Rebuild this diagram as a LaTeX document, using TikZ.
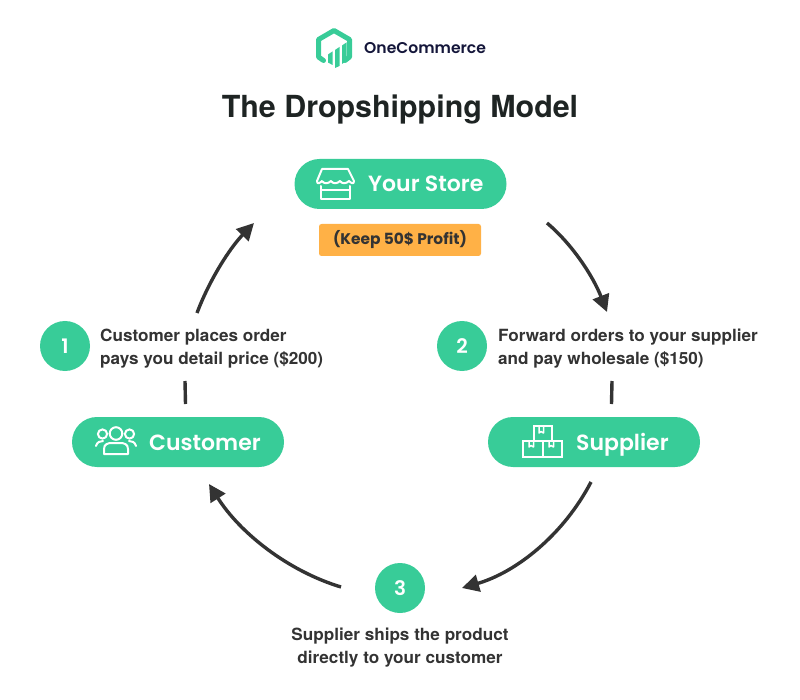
\documentclass[tikz,border=0pt]{standalone}
\usepackage{fontspec}
\setmainfont{Poppins}[BoldFont={Poppins SemiBold}]
\newfontfamily\hv{TeX Gyre Heros}[FakeStretch=1.02]
\newfontfamily\hvt{TeX Gyre Heros}
\newfontfamily\popb{Poppins Bold}
\usetikzlibrary{arrows.meta}
\definecolor{grn}{HTML}{38CC98}
\definecolor{org}{HTML}{FFB146}
\definecolor{ink}{HTML}{333333}
\definecolor{navy}{HTML}{14163A}
\definecolor{ttl}{HTML}{1E2423}
\tikzset{
 pill/.style={fill=grn,rounded corners=25pt,minimum width=212pt,minimum height=50pt,inner sep=0pt},
 pilltext/.style={text=white,font=\bfseries\fontsize{22}{22}\selectfont,inner sep=0pt,anchor=base west},
 numdot/.style={circle,fill=grn,minimum size=50pt,inner sep=0pt,text=white,font=\bfseries\fontsize{20}{20}\selectfont},
 lab/.style={text=ink,font=\hv\bfseries\fontsize{16.8}{22.5}\selectfont,inner sep=0pt,align=left,anchor=base west},
 labc/.style={text=ink,font=\hv\bfseries\fontsize{16.8}{22.5}\selectfont,inner sep=0pt,align=center,anchor=base},
 flow/.style={draw=ink,line width=3.4pt,-{Triangle[length=17pt,width=17pt]}},
 plainflow/.style={draw=ink,line width=3.4pt},
 ico/.style={draw=white,line width=2pt,line join=round,line cap=round,fill=none},
}
\begin{document}
\begin{tikzpicture}[x=1pt,y=-1pt]
\useasboundingbox (0,0) rectangle (800,700);
% logo
\draw[grn,line width=5pt,line join=round,line cap=round] (323.5,60.5) -- (318.5,57) -- (318.5,39.5) -- (334,30.5) -- (349.5,39.5) -- (349.5,57) -- (345,60.5);
\fill[grn] (328,54.5) -- (332.5,51.5) -- (332.5,65) -- (328,62.5) -- cycle
 (335,50) -- (339.5,47) -- (339.5,66) -- (335,68) -- cycle
 (342,45.5) -- (346.5,42.5) -- (346.5,61) -- (342,64) -- cycle;
\node[text=navy,font=\bfseries\fontsize{15.6}{16}\selectfont,inner sep=0pt,anchor=base west] (brand) at (364,53.5) {OneCommerce};
\node[text=ttl,font=\hvt\bfseries\fontsize{30.4}{30}\selectfont,inner sep=0pt,anchor=base] (title) at (400,118) {The Dropshipping Model};
% pills
\node[pill] (store) at (400.5,184) {};
\node[pill] (cust) at (178,442) {};
\node[pill] (supp) at (594,442) {};
\node[pilltext] (storet) at (368,192) {Your Store};
\node[pilltext] (custt) at (149,450) {Customer};
\node[pilltext] (suppt) at (576,450) {Supplier};
\node[fill=org,rounded corners=2.5pt,minimum width=162pt,minimum height=32pt,inner sep=0pt,text=ink,font=\popb\fontsize{15.4}{16}\selectfont] (profit) at (400,240) {(Keep 50\$ Profit)};
% store icon
\draw[ico] (322,169) -- (348,169) -- (354,181) .. controls (354,185) and (351,183) .. (349,181) .. controls (346,184) and (342,184) .. (340,181) .. controls (337,184) and (333,184) .. (331,181) .. controls (328,184) and (324,184) .. (322,181) .. controls (320,183) and (317,185) .. (317,181) -- cycle;
\draw[ico] (321,186) -- (321,199) -- (350,199) -- (350,186) (321,190) -- (350,190);
% people icon
\draw[ico] (116,433.5) circle (6.3pt) (102.5,434) circle (4.6pt) (129.5,434) circle (4.6pt);
\draw[ico] (104,454) -- (104,449) .. controls (104,444) and (108,443) .. (112,443) -- (120,443) .. controls (124,443) and (128,444) .. (128,449) -- (128,454) -- cycle;
\draw[ico] (96,446) .. controls (97,442) and (100,441) .. (103,441) (136,446) .. controls (135,442) and (132,441) .. (129,441);
% boxes icon
\draw[ico,line cap=butt,line join=miter] (533.5,426) rectangle (551.5,441) (523,441) rectangle (542.5,456.5) (542.5,441) rectangle (561.5,456.5);
\draw[ico,line width=1.5pt] (539,426) -- (539,433) -- (541,431.5) -- (543.5,433) -- (543.5,426)
 (529,441) -- (529,447) -- (531,445.5) -- (533.5,447) -- (533.5,441)
 (549,441) -- (549,447) -- (551,445.5) -- (553.5,447) -- (553.5,441);
% steps
\node[numdot] (n1) at (65,346) {1};
\node[numdot] (n2) at (462,346) {2};
\node[numdot] (n3) at (400,588) {3};
\node[lab] (l1) at (100,364) {Customer places order\\pays you detail price (\$200)};
\node[lab] (l2) at (498,364) {Forward orders to your supplier\\and pay wholesale (\$150)};
\node[labc] (l3) at (400,663) {Supplier ships the product\\directly to your customer};
% connector ends
\coordinate (a1s) at (197,313); \coordinate (a1e) at (254,223);
\coordinate (a2s) at (547,223); \coordinate (a2e) at (607,312);
\coordinate (a3s) at (591,482); \coordinate (a3e) at (462,588);
\coordinate (a4s) at (341,587); \coordinate (a4e) at (209,484);
\coordinate (b1s) at (185.5,404); \coordinate (b1e) at (185,381);
\coordinate (b2s) at (612,381); \coordinate (b2e) at (611.5,404);
\draw[flow] (a1s) .. controls (209,281) and (229,249) .. (a1e);
\draw[flow] (a2s) .. controls (572,244) and (593,276) .. (a2e);
\draw[flow] (a3s) .. controls (564,534) and (517,572) .. (a3e);
\draw[flow] (a4s) .. controls (288,571) and (240,533) .. (a4e);
\draw[plainflow] (b1s) -- (b1e);
\draw[plainflow] (b2s) -- (b2e);
\end{tikzpicture}
\end{document}
